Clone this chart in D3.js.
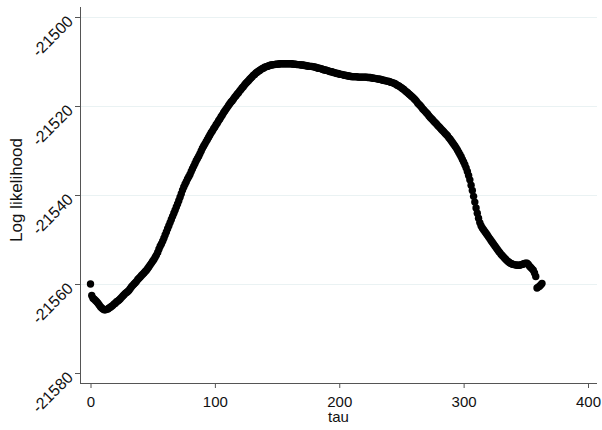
<!DOCTYPE html>
<html>
<head>
<meta charset="utf-8">
<script src="https://cdn.jsdelivr.net/npm/d3@7"></script>
<style>
  body { margin: 0; background: #fff; }
  text { font-family: Helvetica, Arial, "Liberation Sans", sans-serif; fill: #111; }
</style>
</head>
<body>
<svg id="chart" width="602" height="430"></svg>
<script>
// log likelihood, one value per tau = 0, 1, 2, ...
const logLik = [
  -21560.0, -21562.6, -21563.2, -21563.4, -21563.7, -21564.0, -21564.3, -21564.7, -21565.1, -21565.4,
  -21565.6, -21565.8, -21565.8, -21565.7, -21565.6, -21565.4, -21565.2, -21565.0, -21564.8, -21564.5,
  -21564.3, -21564.0, -21563.8, -21563.6, -21563.3, -21563.0, -21562.7, -21562.4, -21562.1, -21561.9,
  -21561.7, -21561.4, -21561.0, -21560.6, -21560.3, -21560.0, -21559.7, -21559.4, -21559.0, -21558.7,
  -21558.4, -21558.1, -21557.8, -21557.5, -21557.2, -21556.9, -21556.5, -21556.1, -21555.7, -21555.3,
  -21554.9, -21554.5, -21554.0, -21553.5, -21552.9, -21552.2, -21551.5, -21551.0, -21550.4, -21549.7,
  -21549.0, -21548.3, -21547.6, -21546.9, -21546.2, -21545.5, -21544.8, -21544.1, -21543.4, -21542.7,
  -21542.0, -21541.3, -21540.5, -21539.7, -21538.9, -21538.2, -21537.6, -21537.0, -21536.4, -21535.9,
  -21535.4, -21534.7, -21534.1, -21533.5, -21532.9, -21532.3, -21531.8, -21531.3, -21530.7, -21530.1,
  -21529.5, -21529.0, -21528.5, -21528.0, -21527.5, -21527.0, -21526.5, -21526.0, -21525.6, -21525.1,
  -21524.7, -21524.2, -21523.8, -21523.3, -21522.9, -21522.4, -21522.0, -21521.5, -21521.1, -21520.7,
  -21520.3, -21519.9, -21519.5, -21519.1, -21518.8, -21518.4, -21518.0, -21517.7, -21517.3, -21517.0,
  -21516.6, -21516.3, -21515.9, -21515.6, -21515.2, -21514.9, -21514.6, -21514.3, -21514.0, -21513.7,
  -21513.4, -21513.1, -21512.9, -21512.6, -21512.4, -21512.2, -21512.0, -21511.8, -21511.6, -21511.5,
  -21511.3, -21511.2, -21511.1, -21511.0, -21510.9, -21510.8, -21510.8, -21510.7, -21510.7, -21510.6,
  -21510.6, -21510.6, -21510.5, -21510.5, -21510.5, -21510.5, -21510.5, -21510.5, -21510.5, -21510.5,
  -21510.5, -21510.5, -21510.5, -21510.6, -21510.6, -21510.6, -21510.7, -21510.7, -21510.7, -21510.8,
  -21510.8, -21510.8, -21510.9, -21510.9, -21511.0, -21511.0, -21511.1, -21511.1, -21511.1, -21511.2,
  -21511.2, -21511.3, -21511.4, -21511.5, -21511.5, -21511.6, -21511.7, -21511.8, -21511.9, -21511.9,
  -21512.0, -21512.1, -21512.2, -21512.3, -21512.3, -21512.4, -21512.5, -21512.6, -21512.7, -21512.7,
  -21512.8, -21512.9, -21512.9, -21513.0, -21513.1, -21513.1, -21513.2, -21513.2, -21513.3, -21513.3,
  -21513.4, -21513.4, -21513.4, -21513.4, -21513.4, -21513.5, -21513.5, -21513.5, -21513.5, -21513.5,
  -21513.5, -21513.5, -21513.5, -21513.6, -21513.6, -21513.6, -21513.7, -21513.7, -21513.8, -21513.8,
  -21513.9, -21513.9, -21514.0, -21514.0, -21514.1, -21514.2, -21514.2, -21514.3, -21514.4, -21514.4,
  -21514.5, -21514.6, -21514.7, -21514.8, -21514.9, -21515.0, -21515.2, -21515.4, -21515.5, -21515.7,
  -21515.9, -21516.1, -21516.3, -21516.6, -21516.8, -21517.0, -21517.3, -21517.5, -21517.8, -21518.0,
  -21518.3, -21518.6, -21518.9, -21519.3, -21519.6, -21519.9, -21520.2, -21520.6, -21520.9, -21521.2,
  -21521.5, -21521.8, -21522.2, -21522.5, -21522.8, -21523.1, -21523.4, -21523.7, -21524.0, -21524.3,
  -21524.6, -21524.9, -21525.2, -21525.5, -21525.8, -21526.1, -21526.4, -21526.7, -21527.1, -21527.4,
  -21527.8, -21528.2, -21528.6, -21529.0, -21529.4, -21529.9, -21530.4, -21530.9, -21531.4, -21532.0,
  -21532.6, -21533.2, -21533.9, -21534.7, -21535.6, -21536.6, -21537.8, -21539.0, -21540.3, -21541.6,
  -21542.9, -21544.1, -21545.2, -21546.2, -21546.9, -21547.4, -21547.8, -21548.2, -21548.6, -21549.0,
  -21549.4, -21549.8, -21550.2, -21550.6, -21551.0, -21551.4, -21551.8, -21552.2, -21552.6, -21552.9,
  -21553.3, -21553.6, -21553.9, -21554.2, -21554.5, -21554.8, -21555.0, -21555.2, -21555.4, -21555.5,
  -21555.6, -21555.7, -21555.7, -21555.8, -21555.8, -21555.8, -21555.7, -21555.6, -21555.5, -21555.4,
  -21555.3, -21555.3, -21555.6, -21556.0, -21556.3, -21556.6, -21556.9, -21557.5, -21558.3, -21560.9,
  -21560.7, -21560.5, -21560.2, -21559.9
];
const tau = logLik.map((v, i) => i);

const xTicks = [0, 100, 200, 300, 400];
const yTicks = [-21580, -21560, -21540, -21520, -21500];
const xLabel = "tau";
const yLabel = "Log likelihood";

const svg = d3.select("#chart");

// plot region edges (Stata style: axes sit on the region border, scale is inset)
const region = { left: 80, right: 597, top: 7, bottom: 383 };

const x = d3.scaleLinear().domain([0, 400]).range([90.5, 588]);
const y = d3.scaleLinear().domain([-21580, -21500]).range([373, 17]);

/* ------- GRID -------*/
svg.append("g")
  .selectAll("line")
  .data(yTicks.filter(d => d > -21580))
  .enter()
  .append("line")
  .attr("x1", region.left)
  .attr("x2", region.right)
  .attr("y1", d => Math.round(y(d)) + 0.5)
  .attr("y2", d => Math.round(y(d)) + 0.5)
  .attr("stroke", "#eaf2f3")
  .attr("stroke-width", 1);

/* ------- AXES -------*/
const yAxis = svg.append("g")
  .attr("transform", `translate(${region.left},0)`)
  .call(d3.axisLeft(y).tickValues(yTicks).tickSize(5).tickSizeOuter(0).tickFormat(d3.format("d")));
yAxis.select(".domain").remove();
yAxis.selectAll(".tick line").attr("stroke", "#555");
yAxis.selectAll(".tick text")
  .attr("font-size", 16)
  .attr("text-anchor", "end")
  .attr("x", 0)
  .attr("dy", 0)
  .attr("transform", "translate(-6,5) rotate(-45)")
  .text(d => String(d));

const xAxis = svg.append("g")
  .attr("transform", `translate(0,${region.bottom})`)
  .call(d3.axisBottom(x).tickValues(xTicks).tickSize(5).tickSizeOuter(0));
xAxis.select(".domain").remove();
xAxis.selectAll(".tick line").attr("stroke", "#555");
xAxis.selectAll(".tick text")
  .attr("font-size", 15)
  .attr("y", 13)
  .attr("dy", "0.71em");

svg.append("line")
  .attr("x1", region.left + 0.5).attr("x2", region.left + 0.5)
  .attr("y1", region.top).attr("y2", region.bottom + 0.5)
  .attr("stroke", "#555");
svg.append("line")
  .attr("x1", region.left).attr("x2", region.right)
  .attr("y1", region.bottom + 0.5).attr("y2", region.bottom + 0.5)
  .attr("stroke", "#555");

svg.selectAll(".tick text").style("fill", "#111");

/* ------- TITLES -------*/
svg.append("text")
  .attr("x", (region.left + region.right) / 2)
  .attr("y", 422)
  .attr("text-anchor", "middle")
  .attr("font-size", 15)
  .text(xLabel);

svg.append("text")
  .attr("transform", "translate(22,190) rotate(-90)")
  .attr("text-anchor", "middle")
  .attr("font-size", 17)
  .text(yLabel);

/* ------- POINTS -------*/
svg.append("g")
  .selectAll("circle")
  .data(tau)
  .enter()
  .append("circle")
  .attr("cx", d => x(d))
  .attr("cy", d => y(logLik[d]))
  .attr("r", 3.7)
  .attr("fill", "#000");
</script>
</body>
</html>
